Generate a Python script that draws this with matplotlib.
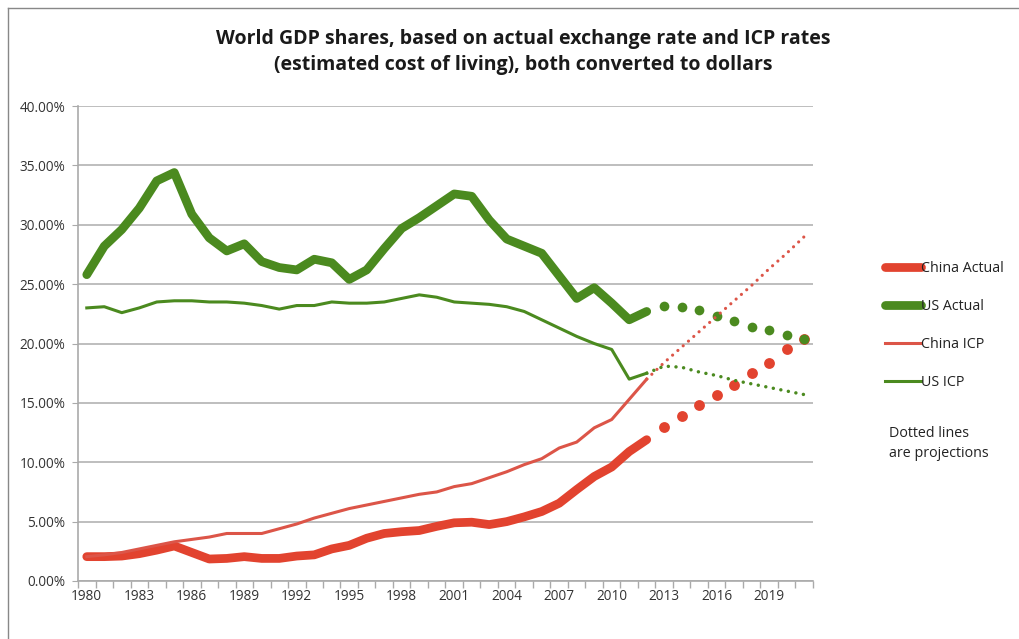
import matplotlib
matplotlib.use("Agg")
import matplotlib.pyplot as plt
import matplotlib.ticker as mticker
from matplotlib.lines import Line2D

plt.rcParams['font.family'] = ['Open Sans', 'DejaVu Sans']

# Historical years and projection years
years_hist = list(range(1980, 2013))
years_proj = list(range(2012, 2022))

# World GDP shares (%), historical
china_actual = [2.05, 2.05, 2.1, 2.3, 2.6, 2.95, 2.4, 1.85, 1.9, 2.05, 1.9,
                1.9, 2.1, 2.2, 2.7, 3.0, 3.6, 4.0, 4.15, 4.25, 4.6, 4.9,
                4.95, 4.75, 5.0, 5.4, 5.85, 6.55, 7.7, 8.8, 9.6, 10.9, 11.9]
us_actual = [25.8, 28.2, 29.6, 31.4, 33.7, 34.4, 30.9, 28.9, 27.8, 28.4, 26.9,
             26.4, 26.2, 27.1, 26.8, 25.4, 26.2, 28.0, 29.7, 30.6, 31.6, 32.6,
             32.4, 30.4, 28.8, 28.2, 27.6, 25.7, 23.8, 24.7, 23.4, 22.0, 22.7]
china_icp = [2.05, 2.2, 2.4, 2.7, 3.0, 3.3, 3.5, 3.7, 4.0, 4.0, 4.0,
             4.4, 4.8, 5.3, 5.7, 6.1, 6.4, 6.7, 7.0, 7.3, 7.5, 7.95,
             8.2, 8.7, 9.2, 9.8, 10.3, 11.2, 11.7, 12.9, 13.6, 15.3, 17.0]
us_icp = [23.0, 23.1, 22.6, 23.0, 23.5, 23.6, 23.6, 23.5, 23.5, 23.4, 23.2,
          22.9, 23.2, 23.2, 23.5, 23.4, 23.4, 23.5, 23.8, 24.1, 23.9, 23.5,
          23.4, 23.3, 23.1, 22.7, 22.0, 21.3, 20.6, 20.0, 19.5, 17.0, 17.5]

# Projections (%), starting from the last historical year
china_actual_proj = [11.9, 13.0, 13.9, 14.8, 15.7, 16.5, 17.5, 18.4, 19.5, 20.4]
us_actual_proj = [22.7, 23.2, 23.1, 22.8, 22.3, 21.9, 21.4, 21.1, 20.7, 20.4]
china_icp_proj = [17.0, 18.4, 19.7, 21.0, 22.3, 23.6, 24.9, 26.3, 27.6, 29.0]
us_icp_proj = [17.5, 18.1, 18.0, 17.6, 17.3, 16.9, 16.6, 16.3, 16.0, 15.7]

tick_years = list(range(1980, 2020, 3))

title = ("World GDP shares, based on actual exchange rate and ICP rates\n"
         "(estimated cost of living), both converted to dollars")

RED = '#e2432f'
RED_THIN = '#dc5548'
GREEN = '#4b8a1f'

fig = plt.figure(figsize=(10.2, 6.39), dpi=100)
ax = fig.add_axes([0.0765, 0.0908, 0.7205, 0.7432])


def pct(vals):
    return [v / 100 for v in vals]


thick = 6.3
thin = 2.2
dots = (0, (0.01, 2.2))

ax.plot(years_hist, pct(china_actual), color=RED, lw=thick, solid_capstyle='round',
        solid_joinstyle='round', label='China Actual', zorder=3)
ax.plot(years_hist, pct(us_actual), color=GREEN, lw=thick, solid_capstyle='round',
        solid_joinstyle='round', label='US Actual', zorder=3)
ax.plot(years_hist, pct(china_icp), color=RED_THIN, lw=thin, solid_joinstyle='round',
        label='China ICP', zorder=3)
ax.plot(years_hist, pct(us_icp), color=GREEN, lw=thin, solid_joinstyle='round',
        label='US ICP', zorder=3)

# Projections: heavy round dots for the actual-rate series, fine dots for ICP
ax.plot(years_proj[1:], pct(china_actual_proj[1:]), linestyle='none', marker='o',
        ms=7.8, color=RED, mec='none', zorder=3)
ax.plot(years_proj[1:], pct(us_actual_proj[1:]), linestyle='none', marker='o',
        ms=7.0, color=GREEN, mec='none', zorder=3)
ax.plot(years_proj, pct(china_icp_proj), color=RED_THIN, lw=2.3,
        linestyle=dots, dash_capstyle='round', zorder=3)
ax.plot(years_proj, pct(us_icp_proj), color=GREEN, lw=2.5,
        linestyle=dots, dash_capstyle='round', zorder=3)

ax.set_xlim(1979.5, 2021.5)
ax.set_ylim(0, 0.40)
ax.yaxis.set_major_locator(mticker.MultipleLocator(0.05))
ax.yaxis.set_major_formatter(mticker.PercentFormatter(1.0, decimals=2))
ax.grid(axis='y', color='#b3b3b3', lw=1.2)
ax.set_axisbelow(True)

ax.set_xticks(tick_years)
ax.set_xticklabels([str(y) for y in tick_years])
ax.xaxis.set_minor_locator(mticker.FixedLocator([y + 0.5 for y in range(1979, 2022)]))
ax.tick_params(axis='x', which='major', length=0, labelsize=9.8, pad=6)
ax.tick_params(axis='x', which='minor', length=5, color='#aaaaaa', width=1)
ax.tick_params(axis='y', length=4, color='#aaaaaa', labelsize=9.8, pad=5)
for lab in ax.get_yticklabels() + ax.get_xticklabels():
    lab.set_color('#333333')

for side in ('top', 'right'):
    ax.spines[side].set_visible(False)
for side in ('left', 'bottom'):
    ax.spines[side].set_color('#aaaaaa')
    ax.spines[side].set_linewidth(1.2)

fig.text(0.513, 0.919, title, ha='center', va='center', fontsize=14.0,
         fontweight='bold', color='#1a1a1a', linespacing=1.4)

leg = fig.legend(loc='upper left', bbox_to_anchor=(0.862, 0.600), frameon=False,
                 fontsize=10.3, handlelength=2.5, handletextpad=0.05,
                 labelspacing=1.6, borderaxespad=0)
for t in leg.get_texts():
    t.set_color('#222222')

fig.text(0.872, 0.306, "Dotted lines\nare projections", ha='left', va='center',
         fontsize=10.3, color='#222222', linespacing=1.45)

# Frame lines along the left and top edges of the figure
fig.add_artist(Line2D([0.0078, 0.0078], [0.0, 0.9875], transform=fig.transFigure,
                      color='#888888', lw=1.0))
fig.add_artist(Line2D([0.0078, 1.0], [0.9875, 0.9875], transform=fig.transFigure,
                      color='#888888', lw=1.0))

fig.savefig('out.png', dpi=100)
